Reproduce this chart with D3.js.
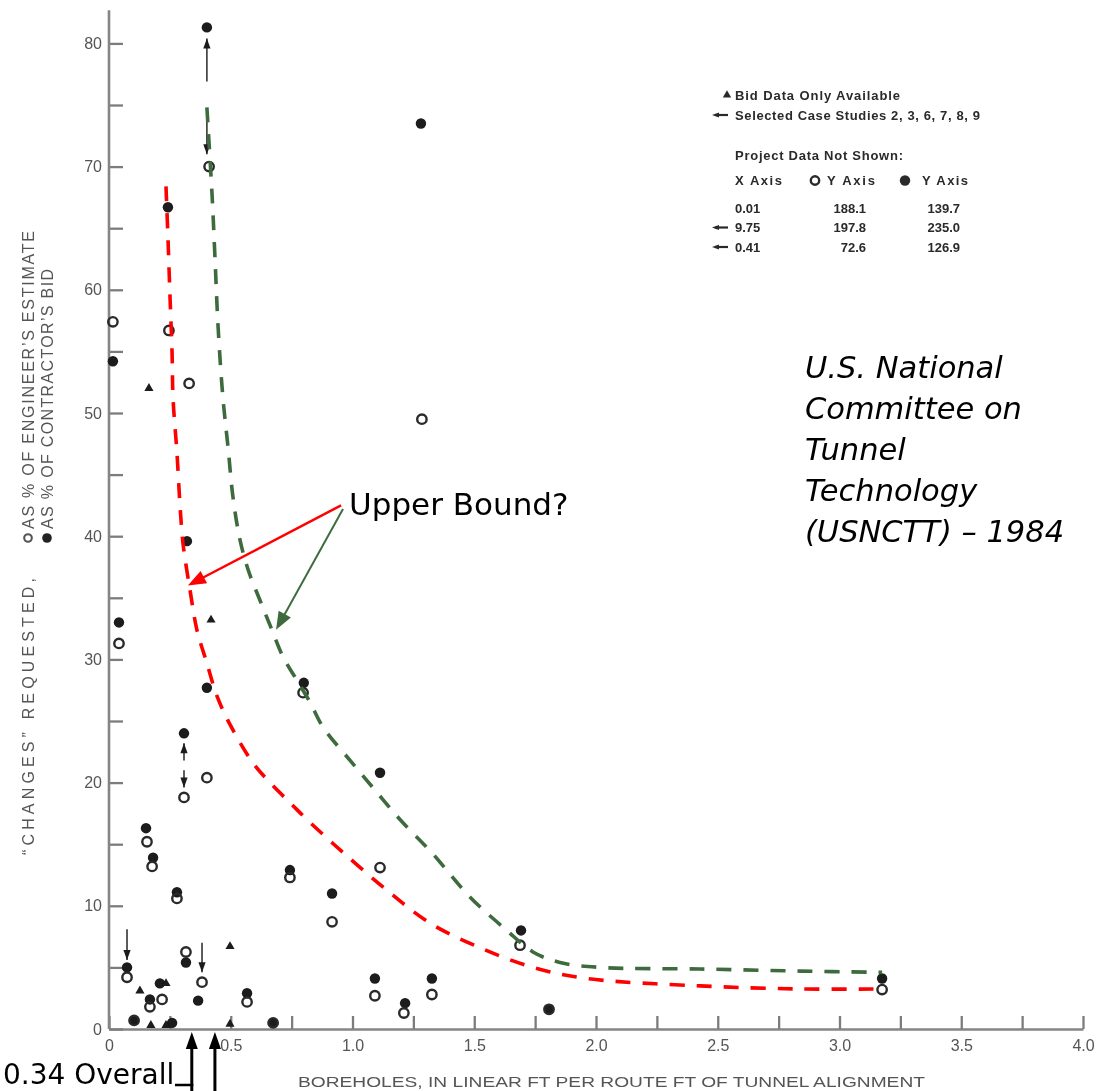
<!DOCTYPE html>
<html>
<head>
<meta charset="utf-8">
<script src="https://cdn.jsdelivr.net/npm/d3@7"></script>
<style>
  body { margin: 0; background: #fff; }
  svg { display: block; }
</style>
</head>
<body>
<svg id="chart" width="1098" height="1091"></svg>
<script>
// ---- data: changes requested vs. borehole footage ----
// [boreholes ft per route ft, % of engineer's estimate]
const engineerEstimate = [
  [0.411, 70.0], [0.016, 57.4], [0.246, 56.7], [0.329, 52.4], [1.285, 49.5],
  [0.041, 31.3], [0.797, 27.3], [0.402, 20.4], [0.308, 18.8], [0.156, 15.2],
  [0.177, 13.2], [1.113, 13.1], [0.743, 12.3], [0.279, 10.6], [0.916, 8.7],
  [1.688, 6.8], [0.316, 6.25], [0.074, 4.2], [0.382, 3.8], [3.175, 3.2],
  [1.326, 2.8], [1.092, 2.7], [0.218, 2.4], [0.567, 2.2], [0.168, 1.8],
  [1.807, 1.6], [1.211, 1.3], [0.103, 0.7], [0.674, 0.5]
];
// [boreholes ft per route ft, % of contractor's bid]
const contractorBid = [
  [0.402, 81.3], [1.281, 73.5], [0.242, 66.7], [0.016, 54.2], [0.320, 39.6],
  [0.041, 33.0], [0.800, 28.1], [0.402, 27.7], [0.308, 24.0], [1.113, 20.8],
  [0.152, 16.3], [0.181, 13.9], [0.743, 12.9], [0.279, 11.1], [0.916, 11.0],
  [1.692, 8.0], [0.316, 5.4], [0.074, 5.0], [1.092, 4.1], [1.326, 4.1],
  [3.175, 4.1], [0.209, 3.7], [0.567, 2.9], [0.168, 2.4], [0.366, 2.3],
  [1.216, 2.1], [1.807, 1.6], [0.103, 0.7], [0.674, 0.5], [0.259, 0.5]
];
// bid data only available
const bidOnly = [
  [0.164, 52.0], [0.419, 33.2], [0.497, 6.7], [0.234, 3.7], [0.127, 3.1],
  [0.172, 0.3], [0.234, 0.3], [0.497, 0.4]
];
// selected case studies: vertical arrows [x, tail, tip]
const caseArrows = [
  [0.402, 76.9, 80.4], [0.402, 74.5, 71.0],
  [0.308, 21.8, 23.2], [0.308, 21.0, 19.6],
  [0.074, 8.1, 5.6], [0.382, 7.0, 4.6]
];
// hand-drawn upper-bound curves
const upperBoundRed = [
  [0.234, 68.4], [0.242, 64.3], [0.251, 59.2], [0.259, 54.9], [0.263, 51.2],
  [0.279, 46.8], [0.292, 42.4], [0.304, 39.4], [0.333, 35.6], [0.361, 32.4],
  [0.402, 29.7], [0.444, 27.0], [0.50, 24.6], [0.591, 21.6], [0.661, 20.0],
  [0.752, 18.2], [0.813, 17.0], [0.957, 14.4], [1.133, 11.4], [1.318, 8.6],
  [1.524, 6.6], [1.741, 5.0], [1.963, 4.1], [2.427, 3.5], [2.838, 3.25],
  [3.175, 3.25]
];
const upperBoundGreen = [
  [0.402, 74.8], [0.423, 67.8], [0.435, 62.7], [0.448, 57.0], [0.468, 51.2],
  [0.489, 47.2], [0.509, 43.2], [0.538, 39.7], [0.571, 37.3], [0.620, 34.8],
  [0.669, 32.4], [0.715, 30.2], [0.772, 28.3], [0.826, 26.5], [0.879, 24.5],
  [0.990, 21.8], [1.092, 19.4], [1.195, 17.0], [1.326, 14.3], [1.483, 10.7],
  [1.634, 8.0], [1.741, 6.25], [1.852, 5.4], [2.016, 5.0], [2.427, 4.87],
  [2.838, 4.7], [3.175, 4.6]
];
// overall borehole ratio markers below the axis
const overallMarks = [0.34, 0.435];

// axis ticks and labels
const xTicks = [0, 0.25, 0.5, 0.75, 1, 1.25, 1.5, 1.75, 2, 2.25, 2.5, 2.75, 3, 3.25, 3.5, 3.75, 4];
const xLabelValues = [0, 0.5, 1, 1.5, 2, 2.5, 3, 3.5, 4];
const xLabelText = ["0", "0.5", "1.0", "1.5", "2.0", "2.5", "3.0", "3.5", "4.0"];
const yTicks = [0, 5, 10, 15, 20, 25, 30, 35, 40, 45, 50, 55, 60, 65, 70, 75, 80];
const yLabelValues = [0, 10, 20, 30, 40, 50, 60, 70, 80];
const yAxisTop = 82.7;

// legend table: projects not shown on the plot
const notShownX = ["0.01", "9.75", "0.41"];
const notShownEngineer = ["188.1", "197.8", "72.6"];
const notShownContractor = ["139.7", "235.0", "126.9"];
const notShownSelected = [false, true, true];

const annotationLines = ["U.S. National", "Committee on", "Tunnel", "Technology", "(USNCTT) \u2013 1984"];

// ---- scales ----
const x = d3.scaleLinear().domain([0, 4]).range([109, 1083]);
const y = d3.scaleLinear().domain([0, 80]).range([1029, 43.4]);

const svg = d3.select("#chart");
svg.append("rect").attr("width", 1098).attr("height", 1091).attr("fill", "#fff");

const defs = svg.append("defs");
defs.append("filter").attr("id", "soft")
  .attr("x", "-2%").attr("y", "-2%").attr("width", "104%").attr("height", "104%")
  .append("feGaussianBlur").attr("stdDeviation", 0.6);

const INK = "#1a1a1a";
const GREY = "#555";
const SANS = "'Liberation Sans', Arial, Helvetica, sans-serif";

// ---- the printed figure (soft ink) ----
const base = svg.append("g").attr("filter", "url(#soft)");

// x axis
const xAxis = d3.axisBottom(x)
  .tickValues(xTicks)
  .tickSizeInner(-13).tickSizeOuter(0).tickPadding(11)
  .tickFormat(v => { const i = xLabelValues.indexOf(v); return i < 0 ? "" : xLabelText[i]; });
const gx = base.append("g").attr("transform", `translate(0,${y(0)})`).call(xAxis);
gx.select(".domain").attr("stroke", "#858585").attr("stroke-width", 2.6);
gx.selectAll(".tick line").attr("stroke", "#7c7c7c").attr("stroke-width", 2.3);
gx.selectAll(".tick text").attr("fill", GREY).style("font-family", SANS).style("font-size", "16px");

// y axis
const yAxis = d3.axisLeft(y)
  .tickValues(yTicks)
  .tickSizeInner(-14).tickSizeOuter(0).tickPadding(7)
  .tickFormat(v => yLabelValues.includes(v) ? String(v) : "");
const gy = base.append("g").attr("transform", `translate(${x(0)},0)`).call(yAxis);
gy.select(".domain").remove();
gy.selectAll(".tick line").attr("stroke", "#7c7c7c").attr("stroke-width", 2.3);
gy.selectAll(".tick text").attr("fill", GREY).style("font-family", SANS).style("font-size", "16px");
base.append("line")
  .attr("x1", x(0)).attr("x2", x(0)).attr("y1", y(0)).attr("y2", y(yAxisTop))
  .attr("stroke", "#858585").attr("stroke-width", 2.6);

// axis titles
base.append("text")
  .attr("x", 298).attr("y", 1087)
  .attr("textLength", 627).attr("lengthAdjust", "spacingAndGlyphs")
  .attr("fill", GREY).style("font-family", SANS).style("font-size", "14.5px")
  .text("BOREHOLES, IN LINEAR FT PER ROUTE FT OF TUNNEL ALIGNMENT");

const yt = base.append("g").attr("fill", GREY).style("font-family", SANS).style("font-size", "16px");
yt.append("text").attr("transform", "translate(33.5,855) rotate(-90)")
  .attr("textLength", 277).attr("lengthAdjust", "spacing")
  .text("\u201CCHANGES\u201D REQUESTED,");
yt.append("circle").attr("cx", 28).attr("cy", 538).attr("r", 3.8)
  .attr("fill", "none").attr("stroke", GREY).attr("stroke-width", 2.1);
yt.append("text").attr("transform", "translate(33.5,529) rotate(-90)")
  .attr("textLength", 298).attr("lengthAdjust", "spacing")
  .text("AS % OF ENGINEER\u2019S ESTIMATE");
yt.append("circle").attr("cx", 47).attr("cy", 538).attr("r", 4.8).attr("fill", "#222");
yt.append("text").attr("transform", "translate(53,529) rotate(-90)")
  .attr("textLength", 260).attr("lengthAdjust", "spacing")
  .text("AS % OF CONTRACTOR\u2019S BID");

// selected case study arrows
function headPath(x1, y1, x2, y2, len, half) {
  const dx = x2 - x1, dy = y2 - y1, L = Math.hypot(dx, dy);
  const ux = dx / L, uy = dy / L, bx = x2 - ux * len, by = y2 - uy * len;
  return `M${x2},${y2}L${bx - uy * half},${by + ux * half}L${bx + uy * half},${by - ux * half}Z`;
}
const arrows = base.append("g");
caseArrows.forEach(([ax, from, to]) => {
  arrows.append("line")
    .attr("x1", x(ax)).attr("x2", x(ax)).attr("y1", y(from)).attr("y2", y(to))
    .attr("stroke", "#333").attr("stroke-width", 1.6);
  arrows.append("path")
    .attr("d", headPath(x(ax), y(from), x(ax), y(to), 10, 3.6))
    .attr("fill", INK);
});

// data markers
base.append("g").selectAll("circle").data(contractorBid).join("circle")
  .attr("cx", d => x(d[0])).attr("cy", d => y(d[1])).attr("r", 5.2)
  .attr("fill", INK);
base.append("g").selectAll("circle").data(engineerEstimate).join("circle")
  .attr("cx", d => x(d[0])).attr("cy", d => y(d[1])).attr("r", 4.7)
  .attr("fill", "none").attr("stroke", "#2a2a2a").attr("stroke-width", 2.4);
const tri = d3.symbol().type(d3.symbolTriangle).size(36);
base.append("g").selectAll("path").data(bidOnly).join("path")
  .attr("transform", d => `translate(${x(d[0])},${y(d[1])})`)
  .attr("d", tri).attr("fill", INK);

// legend
const lg = base.append("g").attr("fill", "#2a2a2a")
  .style("font-family", SANS).style("font-size", "13px").style("font-weight", "bold");
function legendArrow(cx, cy) {
  lg.append("line").attr("x1", cx + 16).attr("x2", cx + 3).attr("y1", cy).attr("y2", cy)
    .attr("stroke", "#2a2a2a").attr("stroke-width", 2.2);
  lg.append("path").attr("d", headPath(cx + 10, cy, cx, cy, 7, 2.6)).attr("fill", "#2a2a2a");
}
lg.append("path").attr("transform", "translate(727,95)").attr("d", d3.symbol().type(d3.symbolTriangle).size(30));
lg.append("text").attr("x", 735).attr("y", 99.5).attr("textLength", 165).attr("lengthAdjust", "spacing")
  .text("Bid Data Only Available");
legendArrow(712, 115);
lg.append("text").attr("x", 735).attr("y", 119.5).attr("textLength", 245).attr("lengthAdjust", "spacing")
  .text("Selected Case Studies 2, 3, 6, 7, 8, 9");
lg.append("text").attr("x", 735).attr("y", 159.5).attr("textLength", 168).attr("lengthAdjust", "spacing")
  .text("Project Data Not Shown:");
lg.append("text").attr("x", 735).attr("y", 184.5).attr("textLength", 47).attr("lengthAdjust", "spacing")
  .text("X Axis");
lg.append("circle").attr("cx", 815).attr("cy", 180.5).attr("r", 4.2)
  .attr("fill", "none").attr("stroke", "#2a2a2a").attr("stroke-width", 2.4);
lg.append("text").attr("x", 827).attr("y", 184.5).attr("textLength", 48).attr("lengthAdjust", "spacing")
  .text("Y Axis");
lg.append("circle").attr("cx", 905).attr("cy", 180.5).attr("r", 5.2);
lg.append("text").attr("x", 922).attr("y", 184.5).attr("textLength", 46).attr("lengthAdjust", "spacing")
  .text("Y Axis");
const rowY = [208, 227.5, 247];
notShownX.forEach((v, i) => {
  const ry = rowY[i];
  if (notShownSelected[i]) legendArrow(712, ry);
  lg.append("text").attr("x", 735).attr("y", ry + 4.5).text(v);
  lg.append("text").attr("x", 866).attr("y", ry + 4.5).attr("text-anchor", "end").text(notShownEngineer[i]);
  lg.append("text").attr("x", 960).attr("y", ry + 4.5).attr("text-anchor", "end").text(notShownContractor[i]);
});

// ---- hand-drawn overlays ----
const over = svg.append("g");
const curve = d3.line().x(d => x(d[0])).y(d => y(d[1])).curve(d3.curveCatmullRom.alpha(0.5));
over.append("path").attr("d", curve(upperBoundRed))
  .attr("fill", "none").attr("stroke", "#ff0000").attr("stroke-width", 3.6)
  .attr("stroke-dasharray", "15 12");
over.append("path").attr("d", curve(upperBoundGreen))
  .attr("fill", "none").attr("stroke", "#3d6b3d").attr("stroke-width", 3.6)
  .attr("stroke-dasharray", "15 12");

// "Upper Bound?" callout
const UB = "'DejaVu Sans', Verdana, sans-serif";
over.append("text").attr("x", x(0.986)).attr("y", y(41.7))
  .attr("fill", "#000").style("font-family", UB).style("font-size", "31px")
  .text("Upper Bound?");
const callouts = [
  { from: [0.953, 42.5], to: [0.324, 36.0], color: "#ff0000", w: 2.4 },
  { from: [0.961, 42.2], to: [0.686, 32.4], color: "#3d6b3d", w: 2.0 }
];
callouts.forEach(c => {
  const x1 = x(c.from[0]), y1 = y(c.from[1]), x2 = x(c.to[0]), y2 = y(c.to[1]);
  const L = Math.hypot(x2 - x1, y2 - y1);
  const k = (L - 14) / L;
  over.append("line").attr("x1", x1).attr("y1", y1)
    .attr("x2", x1 + (x2 - x1) * k).attr("y2", y1 + (y2 - y1) * k)
    .attr("stroke", c.color).attr("stroke-width", c.w);
  over.append("path").attr("d", headPath(x1, y1, x2, y2, 18, 7)).attr("fill", c.color);
});

// source annotation
const ann = over.append("text").attr("fill", "#000")
  .style("font-family", UB).style("font-size", "30.5px").style("font-style", "italic");
annotationLines.forEach((t, i) => {
  ann.append("tspan").attr("x", x(2.858)).attr("y", 378 + i * 41).text(t);
});

// overall ratio arrows under the axis
over.append("text").attr("x", 3).attr("y", 1084)
  .attr("fill", "#000").style("font-family", UB).style("font-size", "28px")
  .text("0.34 Overall");
over.append("line").attr("x1", 175).attr("x2", x(overallMarks[0]) + 1.5)
  .attr("y1", 1085).attr("y2", 1085).attr("stroke", "#000").attr("stroke-width", 2.5);
overallMarks.forEach(v => {
  const ax = x(v), tip = y(0) + 3;
  over.append("line").attr("x1", ax).attr("x2", ax).attr("y1", 1091).attr("y2", tip + 12)
    .attr("stroke", "#000").attr("stroke-width", 3);
  over.append("path").attr("d", headPath(ax, 1091, ax, tip, 17, 6)).attr("fill", "#000");
});
</script>
</body>
</html>
